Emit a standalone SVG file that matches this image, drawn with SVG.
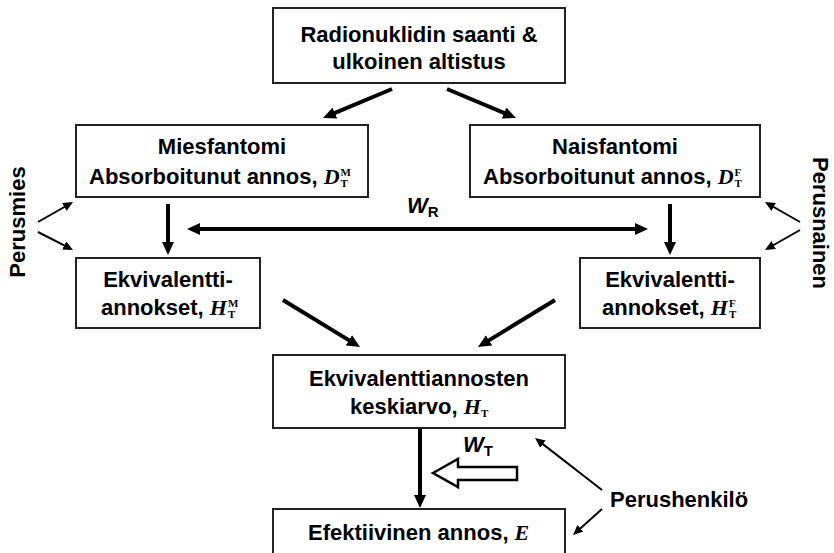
<svg xmlns="http://www.w3.org/2000/svg" width="834" height="553" viewBox="0 0 834 553">
<style>
.box{fill:#fff;stroke:#222;stroke-width:2}
.t{font-family:"Liberation Sans",Arial,sans-serif;font-weight:bold;font-size:22px;fill:#000}
.m{font-family:"Liberation Serif","Times New Roman",serif;font-weight:bold;font-style:italic;font-size:22px}
.s{font-family:"Liberation Serif","Times New Roman",serif;font-weight:bold;font-style:normal;font-size:11px}
.wi{font-style:italic}
.ws{font-size:15px;font-style:normal}
.thick{stroke:#000;stroke-width:4;fill:none;marker-end:url(#ah)}
.thin{stroke:#000;stroke-width:2;fill:none;marker-end:url(#as)}
</style>
<defs>
<marker id="ah" markerUnits="userSpaceOnUse" markerWidth="14" markerHeight="12" refX="7" refY="6" orient="auto-start-reverse"><path d="M0,0 L13,6 L0,12 Z" fill="#000"/></marker>
<marker id="as" markerUnits="userSpaceOnUse" markerWidth="11" markerHeight="9" refX="5" refY="4.5" orient="auto"><path d="M0,0 L10,4.5 L0,9 Z" fill="#000"/></marker>
</defs>
<g id="connectors">
<line class="thick" x1="392" y1="89" x2="328.5" y2="115.7"/>
<line class="thick" x1="447" y1="89" x2="510.5" y2="115.7"/>
<line class="thick" x1="168" y1="204" x2="168" y2="249"/>
<line class="thick" x1="670" y1="204" x2="670" y2="249"/>
<line class="thick" x1="193" y1="229" x2="642" y2="229" style="marker-start:url(#ah)"/>
<line class="thick" x1="283" y1="300" x2="354.9" y2="343.9"/>
<line class="thick" x1="555" y1="300" x2="483.1" y2="343.9"/>
<line class="thick" x1="420" y1="428" x2="420" y2="502"/>
<line class="thin" x1="38" y1="222" x2="68.7" y2="204.5"/>
<line class="thin" x1="38" y1="232" x2="68.6" y2="247.7"/>
<line class="thin" x1="800" y1="222" x2="769.3" y2="204.5"/>
<line class="thin" x1="800" y1="230" x2="769.3" y2="247.5"/>
<line class="thin" x1="602" y1="490" x2="539" y2="441.1"/>
<line class="thin" x1="602" y1="509" x2="576.7" y2="531.7"/>
<polygon points="433,473 458,459 458,467 517,467 517,480 458,480 458,487" fill="#fff" stroke="#000" stroke-width="2.5"/>
<text class="t" x="407" y="213"><tspan class="wi">W</tspan><tspan class="ws" dy="4">R</tspan></text>
<text class="t" x="463" y="452"><tspan class="wi">W</tspan><tspan class="ws" dy="4">T</tspan></text>
</g>
<g id="top">
<rect class="box" x="273" y="8" width="292" height="75"/>
<text class="t" x="419" y="42" text-anchor="middle">Radionuklidin saanti &amp;</text>
<text class="t" x="419" y="69" text-anchor="middle">ulkoinen altistus</text>
</g>
<g id="mies">
<rect class="box" x="76" y="125" width="292" height="72"/>
<text class="t" x="222" y="154" text-anchor="middle">Miesfantomi</text>
<text class="t" x="89" y="184">Absorboitunut annos, <tspan class="m">D</tspan><tspan class="s" dx="1" dy="-8">M</tspan><tspan class="s" dx="-10.4" dy="11">T</tspan></text>
</g>
<g id="nais">
<rect class="box" x="470" y="125" width="290" height="72"/>
<text class="t" x="615" y="154" text-anchor="middle">Naisfantomi</text>
<text class="t" x="483" y="184">Absorboitunut annos, <tspan class="m">D</tspan><tspan class="s" dx="1" dy="-8">F</tspan><tspan class="s" dx="-6.7" dy="11">T</tspan></text>
</g>
<g id="ekv-m">
<rect class="box" x="76" y="258" width="184" height="70"/>
<text class="t" x="168" y="287" text-anchor="middle">Ekvivalentti-</text>
<text class="t" x="101" y="315">annokset, <tspan class="m">H</tspan><tspan class="s" dx="1" dy="-8">M</tspan><tspan class="s" dx="-10.4" dy="11">T</tspan></text>
</g>
<g id="ekv-f">
<rect class="box" x="580" y="258" width="180" height="70"/>
<text class="t" x="670" y="287" text-anchor="middle">Ekvivalentti-</text>
<text class="t" x="602" y="315">annokset, <tspan class="m">H</tspan><tspan class="s" dx="1" dy="-8">F</tspan><tspan class="s" dx="-6.7" dy="11">T</tspan></text>
</g>
<g id="keskiarvo">
<rect class="box" x="273" y="355" width="292" height="73"/>
<text class="t" x="419" y="386" text-anchor="middle">Ekvivalenttiannosten</text>
<text class="t" x="350" y="414">keskiarvo, <tspan class="m">H</tspan><tspan class="s" dy="3">T</tspan></text>
</g>
<g id="efektiivinen">
<rect class="box" x="273" y="509" width="292" height="60"/>
<text class="t" x="308" y="540">Efektiivinen annos, <tspan class="m">E</tspan></text>
</g>
<g id="perusmies">
<text class="t" transform="translate(25,222) rotate(-90)" text-anchor="middle">Perusmies</text>
</g>
<g id="perusnainen">
<text class="t" transform="translate(813,223) rotate(90)" text-anchor="middle">Perusnainen</text>
</g>
<g id="perushenkilo">
<text class="t" x="610" y="507">Perushenkilö</text>
</g>
</svg>
